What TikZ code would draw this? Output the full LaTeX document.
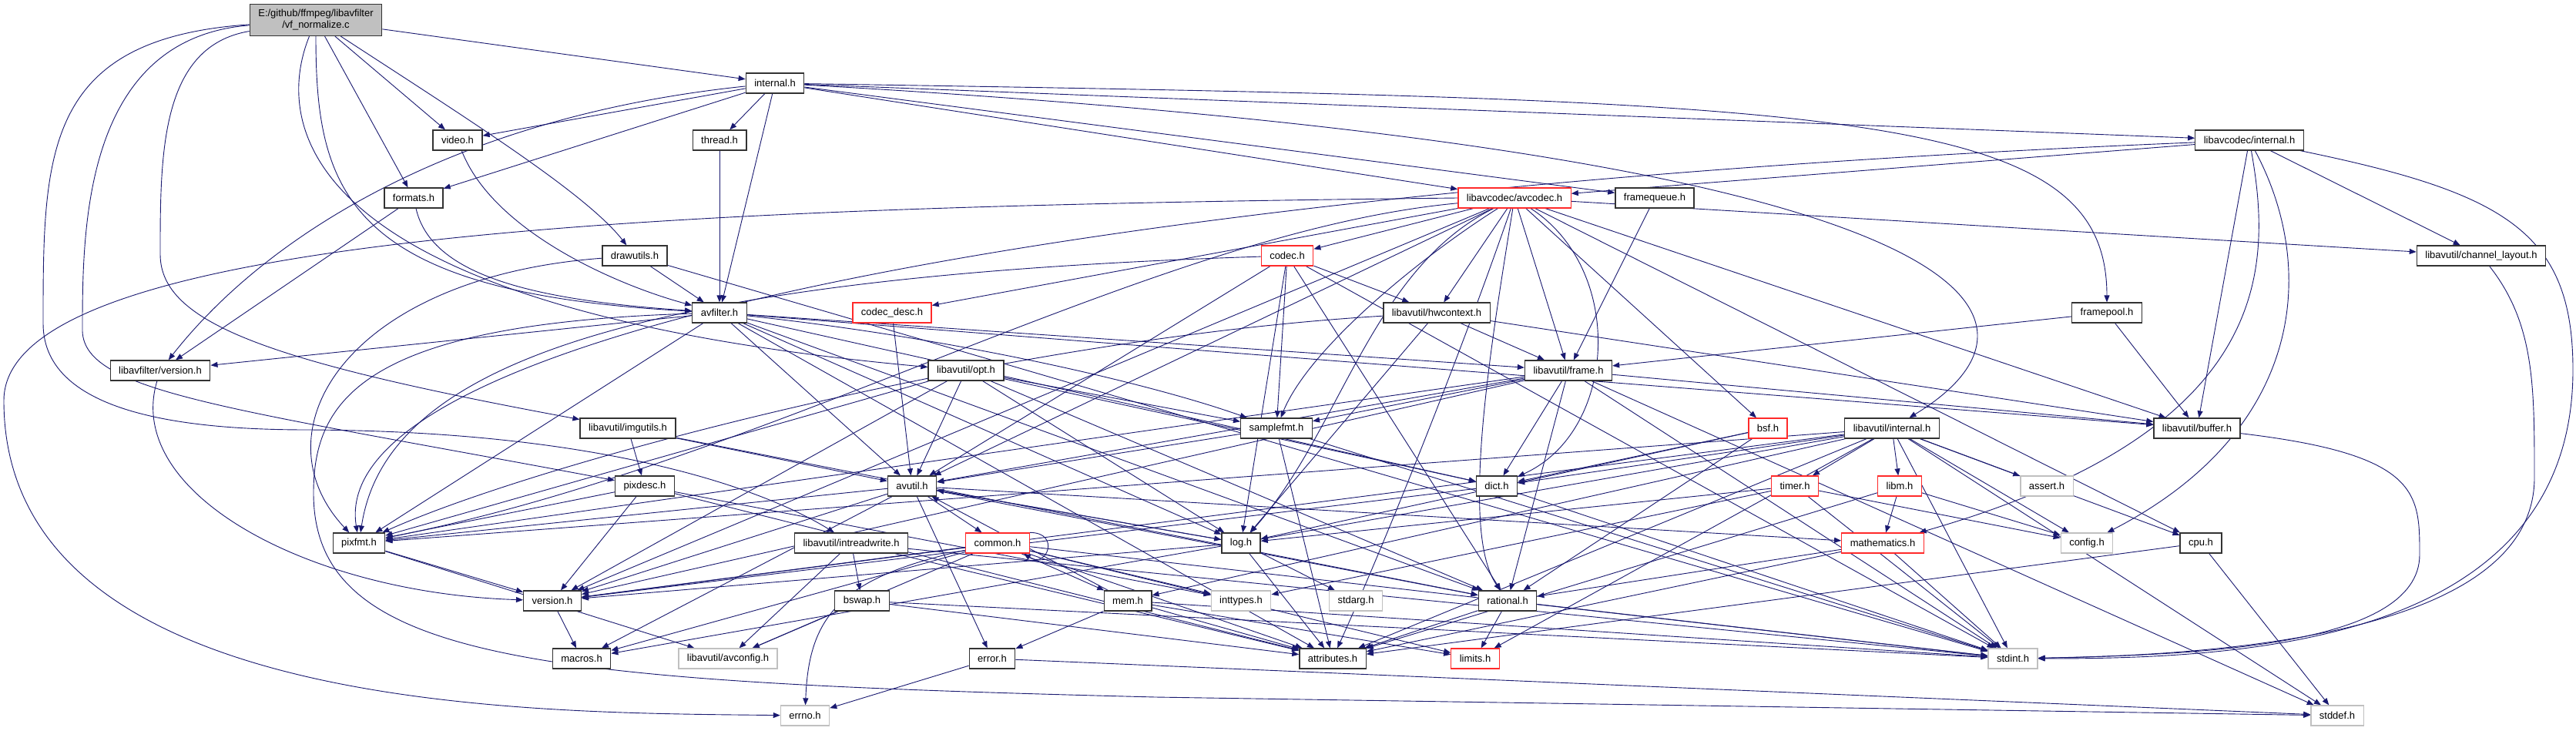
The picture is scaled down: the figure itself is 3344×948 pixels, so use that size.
\documentclass[tikz,border=0pt]{standalone}
\usepackage{fontspec}
\setmainfont{Liberation Sans}
\usepackage{xcolor}
\usepackage{tikz}
\usetikzlibrary{arrows.meta,backgrounds}
\definecolor{dblue}{HTML}{191970}
\definecolor{dred}{HTML}{FF2A2A}
\definecolor{dgray}{HTML}{C0C0C0}
\definecolor{ddark}{HTML}{333333}

\begin{document}
\begin{tikzpicture}[x=1pt, y=-1pt, font=\fontsize{13}{15}\selectfont,
  box/.style={draw=ddark, fill=white, line width=1.3pt, minimum height=26pt, inner xsep=11pt, inner ysep=0pt},
  trunc/.style={box, draw=dred},
  sys/.style={box, draw=dgray},
  root/.style={box, fill=dgray, minimum height=41pt, align=center},
  arr/.style={-{Triangle[length=9pt,width=7pt]}, dblue, line width=0.9pt}]
\useasboundingbox (0,0) rectangle (3344,948);
\node[root] (vfn) at (410,26) {E:/github/ffmpeg/libavfilter\\/vf\_normalize.c};
\node[box] (intl) at (1006,108) {internal.h};
\node[box] (video) at (594,182) {video.h};
\node[box] (thread) at (934,182) {thread.h};
\node[box] (lcint) at (2920,182) {libavcodec/internal.h};
\node[box] (formats) at (537,257) {formats.h};
\node[trunc] (avcodec) at (1966,257) {libavcodec/avcodec.h};
\node[box] (fq) at (2148,257) {framequeue.h};
\node[box] (drawutils) at (824,332) {drawutils.h};
\node[trunc] (codec) at (1671,332) {codec.h};
\node[box] (chlay) at (3221,332) {libavutil/channel\_layout.h};
\node[box] (avfilter) at (934,406) {avfilter.h};
\node[trunc] (cdesc) at (1158,406) {codec\_desc.h};
\node[box] (hwctx) at (1865,406) {libavutil/hwcontext.h};
\node[box] (fpool) at (2735,406) {framepool.h};
\node[box] (lfver) at (208,481) {libavfilter/version.h};
\node[box] (opt) at (1254,481) {libavutil/opt.h};
\node[box] (frame) at (2036,481) {libavutil/frame.h};
\node[box] (imgutils) at (815,556) {libavutil/imgutils.h};
\node[box] (sfmt) at (1657,556) {samplefmt.h};
\node[trunc] (bsf) at (2295,556) {bsf.h};
\node[box] (luint) at (2456,556) {libavutil/internal.h};
\node[box] (buffer) at (2852,556) {libavutil/buffer.h};
\node[box] (pixdesc) at (837,631) {pixdesc.h};
\node[box] (avutil) at (1184,631) {avutil.h};
\node[box] (dict) at (1943,631) {dict.h};
\node[trunc] (timer) at (2330,631) {timer.h};
\node[trunc] (libm) at (2466,631) {libm.h};
\node[sys] (assert) at (2657,631) {assert.h};
\node[box] (pixfmt) at (466,705) {pixfmt.h};
\node[box] (intrw) at (1105,705) {libavutil/intreadwrite.h};
\node[trunc] (common) at (1295,705) {common.h};
\node[box] (log) at (1611,705) {log.h};
\node[trunc] (math) at (2444,705) {mathematics.h};
\node[sys] (config) at (2709,705) {config.h};
\node[box] (cpu) at (2857,705) {cpu.h};
\node[box] (version) at (717,780) {version.h};
\node[box] (bswap) at (1119,780) {bswap.h};
\node[box] (mem) at (1464,780) {mem.h};
\node[sys] (inttypes) at (1611,780) {inttypes.h};
\node[sys] (stdarg) at (1760,780) {stdarg.h};
\node[box] (rational) at (1957,780) {rational.h};
\node[box] (macros) at (755,855) {macros.h};
\node[sys] (avconfig) at (945,855) {libavutil/avconfig.h};
\node[box] (error) at (1288,855) {error.h};
\node[box] (attr) at (1730,855) {attributes.h};
\node[trunc] (limits) at (1915,855) {limits.h};
\node[sys] (stdint) at (2613,855) {stdint.h};
\node[sys] (errno) at (1045,929) {errno.h};
\node[sys] (stddef) at (3034,929) {stddef.h};
\begin{scope}[on background layer]
\fill[white] (0,0) rectangle (3344,948);
\draw[arr] (vfn) -- (intl);
\draw[arr] (vfn) -- (video);
\draw[arr] (vfn) -- (formats);
\draw[arr] (vfn) .. controls (600,150) and (760,250) .. (drawutils);
\draw[arr] (vfn) .. controls (410,250) and (450,380) .. (avfilter);
\draw[arr] (vfn) .. controls (360,150) and (360,400) .. (opt);
\draw[arr] (vfn) .. controls (208,60) and (208,200) .. (208,330) .. controls (208,420) and (350,470) .. (imgutils);
\draw[arr] (vfn) .. controls (107,50) and (107,300) .. (107,430) .. controls (110,510) and (300,530) .. (pixdesc);
\draw[arr] (vfn) .. controls (56,50) and (56,200) .. (56,420) .. controls (56,540) and (250,558) .. (400,558) .. controls (800,560) and (1000,640) .. (intrw);
\draw[arr] (intl) -- (video);
\draw[arr] (intl) -- (formats);
\draw[arr] (intl) .. controls (600,150) and (350,300) .. (lfver);
\draw[arr] (intl) -- (thread);
\draw[arr] (intl) -- (avfilter);
\draw[arr] (intl) -- (lcint);
\draw[arr] (intl) .. controls (2400,130) and (2735,140) .. (fpool);
\draw[arr] (intl) .. controls (2640,200) and (2680,420) .. (luint);
\draw[arr] (intl) -- (avcodec);
\draw[arr] (intl) -- (fq);
\draw[arr] (video) .. controls (640,300) and (800,370) .. (avfilter);
\draw[arr] (thread) -- (avfilter);
\draw[arr] (formats) .. controls (560,360) and (700,390) .. (avfilter);
\draw[arr] (formats) -- (lfver);
\draw[arr] (drawutils) -- (avfilter);
\draw[arr] (drawutils) .. controls (450,360) and (330,560) .. (pixfmt);
\draw[arr] (drawutils) -- (stdint);
\draw[arr] (lcint) -- (avcodec);
\draw[arr] (lcint) .. controls (1500,240) and (420,420) .. (pixfmt);
\draw[arr] (lcint) -- (buffer);
\draw[arr] (lcint) -- (chlay);
\draw[arr] (lcint) .. controls (2950,350) and (2950,560) .. (math);
\draw[arr] (lcint) .. controls (3010,350) and (2990,560) .. (config);
\draw[arr] (lcint) .. controls (3250,250) and (3340,300) .. (3340,480) .. controls (3340,840) and (2900,855) .. (stdint);
\draw[arr] (avcodec.west) .. controls (900,268) and (5,300) .. (5,520) .. controls (5,930) and (700,925) .. (errno);
\draw[arr] (avcodec) .. controls (1850,330) and (1700,450) .. (sfmt);
\draw[arr] (avcodec) .. controls (1900,450) and (1800,700) .. (attr);
\draw[arr] (avcodec) -- (avutil);
\draw[arr] (avcodec) -- (buffer);
\draw[arr] (avcodec) -- (cpu);
\draw[arr] (avcodec) -- (chlay);
\draw[arr] (avcodec) .. controls (2110,350) and (2100,560) .. (dict);
\draw[arr] (avcodec) -- (frame);
\draw[arr] (avcodec) -- (hwctx);
\draw[arr] (avcodec) .. controls (1780,350) and (1740,560) .. (log);
\draw[arr] (avcodec) .. controls (1500,300) and (1000,600) .. (pixfmt);
\draw[arr] (avcodec) .. controls (1935,450) and (1895,690) .. (rational);
\draw[arr] (avcodec) -- (bsf);
\draw[arr] (avcodec) -- (codec);
\draw[arr] (avcodec) -- (cdesc);
\draw[arr] (avcodec) -- (version);
\draw[arr] (codec) -- (avutil);
\draw[arr] (codec) -- (hwctx);
\draw[arr] (codec) -- (log);
\draw[arr] (codec) .. controls (800,360) and (500,480) .. (pixfmt);
\draw[arr] (codec) -- (rational);
\draw[arr] (codec) -- (sfmt);
\draw[arr] (codec) -- (stdint);
\draw[arr] (cdesc) -- (avutil);
\draw[arr] (hwctx) -- (buffer);
\draw[arr] (hwctx) -- (frame);
\draw[arr] (hwctx) -- (log);
\draw[arr] (hwctx) .. controls (1300,440) and (700,600) .. (pixfmt);
\draw[arr] (fpool) -- (buffer);
\draw[arr] (fpool) -- (frame);
\draw[arr] (fq) -- (frame);
\draw[arr] (chlay) .. controls (3290,420) and (3290,500) .. (3290,620) .. controls (3290,820) and (2900,850) .. (stdint);
\draw[arr] (lfver) .. controls (160,640) and (400,770) .. (version);
\draw[arr] (avfilter) .. controls (470,420) and (407,520) .. (407,640) .. controls (407,860) and (700,885) .. (1500,905) -- (stddef);
\draw[arr] (avfilter) -- (attr);
\draw[arr] (avfilter) -- (avutil);
\draw[arr] (avfilter) -- (buffer);
\draw[arr] (avfilter) -- (dict);
\draw[arr] (avfilter) -- (frame);
\draw[arr] (avfilter) -- (log);
\draw[arr] (avfilter) .. controls (1250,440) and (1500,500) .. (sfmt);
\draw[arr] (avfilter) -- (pixfmt);
\draw[arr] (avfilter) -- (rational);
\draw[arr] (avfilter) -- (lfver);
\draw[arr] (opt) -- (rational);
\draw[arr] (opt) -- (avutil);
\draw[arr] (opt) -- (dict);
\draw[arr] (opt) -- (log);
\draw[arr] (opt) -- (pixfmt);
\draw[arr] (opt) -- (sfmt);
\draw[arr] (opt) -- (version);
\draw[arr] (frame) -- (stddef);
\draw[arr] (frame) -- (stdint);
\draw[arr] (frame) -- (avutil);
\draw[arr] (frame) -- (buffer);
\draw[arr] (frame) -- (dict);
\draw[arr] (frame) -- (rational);
\draw[arr] (frame) -- (sfmt);
\draw[arr] (frame) -- (pixfmt);
\draw[arr] (frame) -- (version);
\draw[arr] (sfmt) -- (stdint);
\draw[arr] (sfmt) -- (avutil);
\draw[arr] (sfmt) -- (attr);
\draw[arr] (imgutils) -- (avutil);
\draw[arr] (imgutils) -- (pixdesc);
\draw[arr] (imgutils) -- (rational);
\draw[arr] (bsf) -- (dict);
\draw[arr] (bsf) -- (log);
\draw[arr] (bsf) -- (rational);
\draw[arr] (luint) -- (limits);
\draw[arr] (luint) -- (stdint);
\draw[arr] (luint) -- (stddef);
\draw[arr] (luint) -- (assert);
\draw[arr] (luint) -- (config);
\draw[arr] (luint) -- (attr);
\draw[arr] (luint) -- (timer);
\draw[arr] (luint) -- (cpu);
\draw[arr] (luint) -- (dict);
\draw[arr] (luint) -- (macros);
\draw[arr] (luint) -- (mem);
\draw[arr] (luint) -- (pixfmt);
\draw[arr] (luint) -- (version);
\draw[arr] (luint) -- (libm);
\draw[arr] (buffer) .. controls (3141,590) and (3141,640) .. (3141,720) .. controls (3141,840) and (2850,850) .. (stdint);
\draw[arr] (pixdesc) -- (inttypes);
\draw[arr] (pixdesc) -- (attr);
\draw[arr] (pixdesc) -- (pixfmt);
\draw[arr] (pixdesc) -- (version);
\draw[arr] (avutil) -- (common);
\draw[arr] (avutil) -- (error);
\draw[arr] (avutil) -- (rational);
\draw[arr] (avutil) -- (version);
\draw[arr] (avutil) -- (macros);
\draw[arr] (avutil) -- (math);
\draw[arr] (avutil) -- (log);
\draw[arr] (avutil) -- (pixfmt);
\draw[arr] (dict) -- (stdint);
\draw[arr] (dict) -- (version);
\draw[arr] (timer) -- (log);
\draw[arr] (timer) -- (config);
\draw[arr] (timer) -- (inttypes);
\draw[arr] (timer) -- (stdint);
\draw[arr] (libm) -- (config);
\draw[arr] (libm) -- (attr);
\draw[arr] (libm) -- (math);
\draw[arr] (pixfmt) -- (avconfig);
\draw[arr] (pixfmt) -- (version);
\draw[arr] (intrw) -- (stdint);
\draw[arr] (intrw) -- (avconfig);
\draw[arr] (intrw) -- (attr);
\draw[arr] (intrw) -- (bswap);
\draw[arr] (common) .. controls (1090,750) and (1050,800) .. (errno);
\draw[arr] (common) -- (inttypes);
\draw[arr] (common) -- (limits);
\draw[arr] (common) -- (stdint);
\draw[arr] (common) -- (attr);
\draw[arr] (common) -- (macros);
\draw[arr] (common) -- (version);
\draw[arr] (common) -- (avconfig);
\draw[arr] (common) -- (mem);
\draw[arr] (common.north east) .. controls +(40,0) and +(30,20) .. ([xshift=-8pt]common.south east);
\draw[arr] (log) -- (stdarg);
\draw[arr] (log) -- (avutil);
\draw[arr] (log) -- (attr);
\draw[arr] (log) -- (version);
\draw[arr] (math) -- (stdint);
\draw[arr] (math) -- (attr);
\draw[arr] (math) -- (rational);
\draw[arr] (cpu) -- (stddef);
\draw[arr] (cpu) -- (attr);
\draw[arr] (version) -- (macros);
\draw[arr] (bswap) -- (avconfig);
\draw[arr] (bswap) -- (attr);
\draw[arr] (bswap) -- (stdint);
\draw[arr] (mem) -- (limits);
\draw[arr] (mem) -- (stdint);
\draw[arr] (mem) -- (attr);
\draw[arr] (mem) -- (error);
\draw[arr] (mem) -- (avutil);
\draw[arr] (rational) -- (stdint);
\draw[arr] (rational) -- (limits);
\draw[arr] (rational) -- (attr);
\draw[arr] (error) -- (errno);
\draw[arr] (error) -- (stddef);
\end{scope}
\end{tikzpicture}
\end{document}
